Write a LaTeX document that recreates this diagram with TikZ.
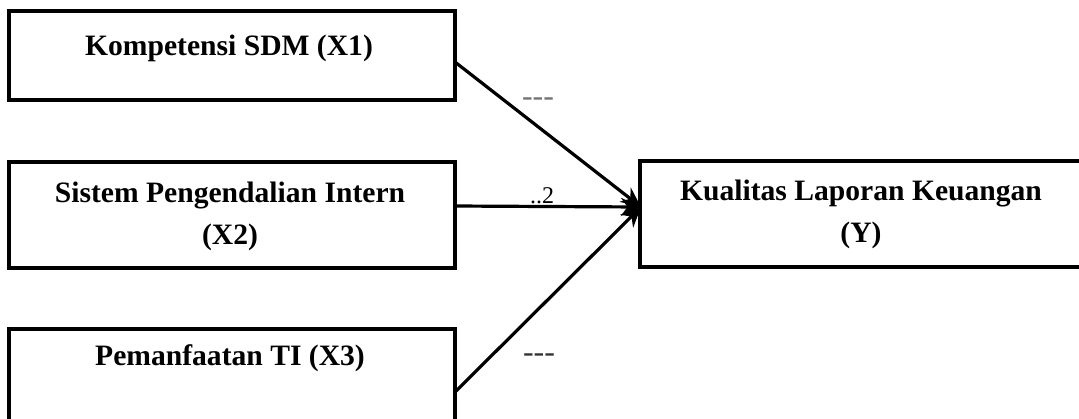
\documentclass[tikz,border=0pt]{standalone}
\usepackage{fontspec}
\setmainfont{Liberation Serif}
\usetikzlibrary{arrows.meta}
\begin{document}
\begin{tikzpicture}[x=0.5pt,y=-0.5pt,
  box/.style={draw=black,line width=1.8pt,rectangle,inner sep=0pt},
  lbl/.style={font=\fontsize{14.8}{21}\selectfont\bfseries,align=center,inner sep=0pt},
  conn/.style={line width=1.6pt,-{Stealth[length=10pt,width=9pt]}},
  tiny/.style={font=\fontsize{16}{16}\selectfont,inner sep=0pt}]
\clip (0,0) rectangle (1079,418);
\useasboundingbox (0,0) rectangle (1079,418);
% boxes
\node[box,minimum width=223pt,minimum height=44.5pt] (x1) at (232,55.5) {};
\node[box,minimum width=223pt,minimum height=53pt] (x2) at (232,215) {};
\node[box,minimum width=223pt,minimum height=55pt] (x3) at (232,384) {};
\node[box,minimum width=221.5pt,minimum height=53pt] (y) at (861.5,214) {};
% texts
\node[lbl] (t1) at (229,48) {Kompetensi SDM (X1)};
\node[lbl] (t2) at (230,216) {Sistem Pengendalian Intern\\(X2)};
\node[lbl] (t3) at (230,358) {Pemanfaatan TI (X3)};
\node[lbl] (ty) at (861,214) {Kualitas Laporan Keuangan\\(Y)};
% connector points
\coordinate (s1) at (455,62);
\coordinate (s2) at (455,206);
\coordinate (s3) at (455,392);
\coordinate (m) at (641,207);
\draw[conn] (s1) -- (m);
\draw[conn] (s2) -- (m);
\draw[conn] (s3) -- (m);
% small labels
\node[tiny,text=black!55] (l1) at (538,102) {-{}-{}-};
\node[tiny,font=\fontsize{12}{12}\selectfont] (l2) at (542,196) {..2};
\node[tiny,text=black!80] (l3) at (539,358) {-{}-{}-};
\end{tikzpicture}
\end{document}
